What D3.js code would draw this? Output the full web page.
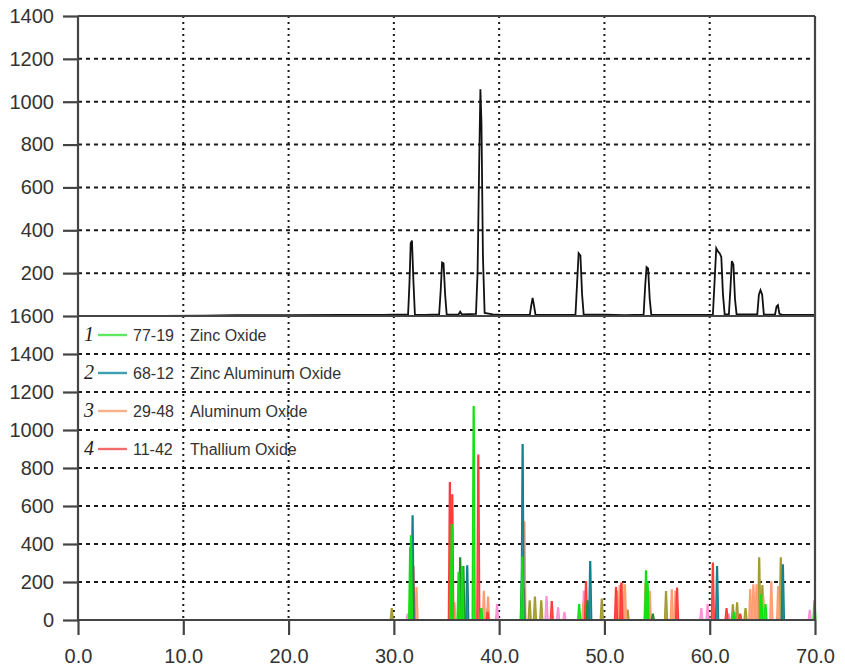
<!DOCTYPE html>
<html>
<head>
<meta charset="utf-8">
<script src="https://cdn.jsdelivr.net/npm/d3@7"></script>
<style>
  body { margin: 0; background: #fff; }
  text { font-family: "Liberation Sans", Arial, sans-serif; }
</style>
</head>
<body>
<div id="wrapper"></div>
<script>
// x axis (2-theta) ticks
const xTicks = [0, 10, 20, 30, 40, 50, 60, 70];
const topTicks = [200, 400, 600, 800, 1000, 1200, 1400];
const botTicks = [0, 200, 400, 600, 800, 1000, 1200, 1400, 1600];

// measured scan, [2theta, counts]
const topScan = [
  [0, 0], [8, 1], [12, 2], [15, 4], [20, 4], [25, 5], [29, 5], [30, 6],
  [31.35, 6], [31.48, 150], [31.6, 340], [31.72, 352], [31.86, 160], [32.0, 6],
  [33.0, 5], [34.3, 8], [34.45, 120], [34.58, 250], [34.72, 246], [34.87, 100], [35.02, 6],
  [36.15, 8], [36.3, 20], [36.45, 8],
  [37.8, 10], [37.95, 200], [38.1, 700], [38.22, 1058], [38.32, 900], [38.46, 280], [38.62, 14],
  [39.4, 8], [40.0, 6], [41.5, 5],
  [42.92, 6], [43.05, 50], [43.18, 84], [43.31, 50], [43.45, 6],
  [45.5, 5], [47.25, 6], [47.4, 150], [47.55, 293], [47.72, 282], [47.88, 100], [48.03, 6],
  [50.0, 6], [52.0, 4],
  [53.72, 6], [53.87, 140], [54.0, 228], [54.15, 222], [54.3, 80], [54.45, 6],
  [57.0, 5], [60.3, 6], [60.45, 150], [60.62, 316], [60.8, 300], [60.95, 292], [61.1, 276], [61.26, 100], [61.42, 8],
  [61.82, 8], [61.97, 130], [62.1, 256], [62.25, 240], [62.4, 80], [62.55, 8],
  [64.52, 8], [64.67, 100], [64.82, 121], [64.98, 100], [65.14, 8],
  [66.2, 6], [66.35, 45], [66.48, 51], [66.62, 10], [66.9, 5], [70, 5]
];

// reference patterns, [2theta, intensity]
const zincOxide = [
  [31.55, 380], [31.62, 442], [35.5, 500], [36.15, 250], [36.5, 280], [37.58, 1123],
  [38.3, 60], [42.2, 330], [47.6, 80], [53.95, 258], [54.1, 200], [62.3, 40], [64.9, 130], [65.3, 80], [69.95, 100]
];
const zincAluminumOxide = [
  [31.78, 547], [36.97, 284], [42.23, 922], [48.65, 307], [60.7, 280], [66.95, 290]
];
const aluminumOxide = [
  [32.15, 170], [35.75, 90], [38.55, 150], [38.95, 120], [42.4, 516], [48.0, 90],
  [51.2, 150], [51.45, 180], [51.7, 192], [51.95, 185], [53.9, 194], [54.3, 150],
  [56.4, 158], [56.75, 150], [63.85, 160], [64.15, 184], [64.45, 184], [65.1, 120],
  [65.85, 200], [66.5, 175]
];
const thalliumOxide = [
  [31.85, 280], [35.32, 723], [35.55, 658], [38.02, 868], [38.9, 40], [42.35, 167],
  [45.0, 96], [48.25, 202], [51.1, 170], [51.6, 194], [56.9, 167], [60.3, 299], [61.6, 60], [62.9, 30]
];
const oliveLines = [
  [29.8, 60], [36.25, 180], [38.9, 60], [42.9, 100], [43.4, 120], [44.0, 100], [49.75, 110],
  [52.2, 52], [55.85, 149], [62.2, 79], [62.6, 90], [63.4, 60], [64.7, 326], [65.0, 180], [66.75, 326]
];
const pinkLines = [
  [31.3, 30], [36.5, 80], [39.8, 80], [44.5, 123], [45.6, 63], [46.2, 40], [48.05, 150],
  [59.2, 60], [59.8, 80], [61.8, 30], [64.6, 120], [69.5, 50]
];
const darkGreenLines = [
  [36.3, 326], [36.6, 280], [42.15, 200], [48.4, 100], [54.6, 30]
];

const legendNums = ["1", "2", "3", "4"];
const legendCodes = ["77-19", "68-12", "29-48", "11-42"];
const legendNames = ["Zinc Oxide", "Zinc Aluminum Oxide", "Aluminum Oxide", "Thallium Oxide"];
const legendColors = ["#5fe85f", "#3b9fb0", "#f8b088", "#f26a6a"];

var dimension = {
  width: 845,
  height: 669,
  margin: { top: 16, right: 30, bottom: 49, left: 78 }
};
const split = 316;

const svg = d3.select("#wrapper")
  .append("svg")
  .attr("width", dimension.width)
  .attr("height", dimension.height);

const x = d3.scaleLinear().domain([0, 70])
  .range([dimension.margin.left, dimension.width - dimension.margin.right]);
const yTop = d3.scaleLinear().domain([0, 1400]).range([split, dimension.margin.top]);
const yBot = d3.scaleLinear().domain([0, 1600])
  .range([dimension.height - dimension.margin.bottom, split]);

// grid
const grid = svg.append("g").attr("stroke", "#1a1a1a").attr("stroke-width", 2);
grid.selectAll("line.hgt")
  .data(topTicks.filter(d => d < 1400))
  .enter().append("line")
  .attr("x1", x(0)).attr("x2", x(70))
  .attr("y1", d => yTop(d)).attr("y2", d => yTop(d))
  .attr("stroke-dasharray", "4,4");
grid.selectAll("line.hgb")
  .data(botTicks.filter(d => d > 0 && d < 1600))
  .enter().append("line")
  .attr("x1", x(0)).attr("x2", x(70))
  .attr("y1", d => yBot(d)).attr("y2", d => yBot(d))
  .attr("stroke-dasharray", "4,4");
grid.selectAll("line.vg")
  .data(xTicks.filter(d => d > 0 && d < 70))
  .enter().append("line")
  .attr("x1", d => x(d)).attr("x2", d => x(d))
  .attr("y1", yTop(1400)).attr("y2", yBot(0))
  .attr("stroke-width", 2)
  .attr("stroke-dasharray", "2,4");

// top scan
const line = d3.line().x(d => x(d[0])).y(d => yTop(d[1]));
svg.append("path")
  .datum(topScan)
  .attr("fill", "none")
  .attr("stroke", "#111")
  .attr("stroke-width", 1.8)
  .attr("d", line);

// reference patterns as sticks
const patterns = [
  { data: pinkLines, color: "#ff8fd6" },
  { data: oliveLines, color: "#a39a30" },
  { data: aluminumOxide, color: "#ff9c70" },
  { data: thalliumOxide, color: "#ff3c3c" },
  { data: darkGreenLines, color: "#1f8c2a" },
  { data: zincAluminumOxide, color: "#14808f" },
  { data: zincOxide, color: "#12e012" }
];
const stick = d => {
  const p = d[0], h = d[1];
  return d3.line()([
    [x(p - 0.14), yBot(0)], [x(p - 0.04), yBot(h)],
    [x(p + 0.04), yBot(h)], [x(p + 0.14), yBot(0)]
  ]);
};
patterns.forEach(s => {
  svg.append("g")
    .selectAll("path")
    .data(s.data)
    .enter().append("path")
    .attr("d", stick)
    .attr("fill", s.color)
    .attr("fill-opacity", 0.85)
    .attr("stroke", s.color)
    .attr("stroke-width", 1.4);
});

// axes
const axisColor = "#444";
const fmt = d3.format("d");
const gTop = svg.append("g")
  .attr("transform", `translate(${x(0)},0)`)
  .call(d3.axisLeft(yTop).tickValues(topTicks).tickFormat(fmt).tickSize(15).tickPadding(9));
const gBot = svg.append("g")
  .attr("transform", `translate(${x(0)},0)`)
  .call(d3.axisLeft(yBot).tickValues(botTicks).tickFormat(fmt).tickSize(15).tickPadding(9));
const gX = svg.append("g")
  .attr("transform", `translate(0,${yBot(0)})`)
  .call(d3.axisBottom(x).tickValues(xTicks).tickFormat(d3.format(".1f"))
    .tickSize(15).tickPadding(14));
[gTop, gBot, gX].forEach(g => {
  g.select(".domain").remove();
  g.selectAll(".tick line").attr("stroke", axisColor).attr("stroke-width", 2.2);
  g.selectAll(".tick text")
    .attr("fill", "#333")
    .style("font-size", "20px");
});

// frame
const frame = svg.append("g").attr("stroke", axisColor).attr("stroke-width", 2.2);
frame.append("line").attr("x1", x(0)).attr("x2", x(0)).attr("y1", yTop(1400)).attr("y2", yBot(0));
frame.append("line").attr("x1", x(70)).attr("x2", x(70)).attr("y1", yTop(1400)).attr("y2", yBot(0));
frame.append("line").attr("x1", x(0)).attr("x2", x(70)).attr("y1", yTop(1400)).attr("y2", yTop(1400));
frame.append("line").attr("x1", x(0)).attr("x2", x(70)).attr("y1", split).attr("y2", split);
frame.append("line").attr("x1", x(0)).attr("x2", x(70)).attr("y1", yBot(0)).attr("y2", yBot(0));

// legend
const legend = svg.append("g").selectAll("g")
  .data(legendNames)
  .enter().append("g")
  .attr("transform", (d, i) => `translate(0,${yBot(1500 - i * 200)})`);
legend.append("text")
  .attr("x", 89).attr("y", 6)
  .attr("text-anchor", "middle")
  .style("font-family", "'Liberation Serif', serif")
  .style("font-style", "italic")
  .style("font-size", "20px")
  .attr("fill", "#222")
  .text((d, i) => legendNums[i]);
legend.append("line")
  .attr("x1", 98).attr("x2", 127)
  .attr("y1", 0).attr("y2", 0)
  .attr("stroke", (d, i) => legendColors[i])
  .attr("stroke-width", 2.4);
legend.append("text")
  .attr("x", 133).attr("y", 6)
  .style("font-size", "16px")
  .attr("fill", "#333")
  .text((d, i) => legendCodes[i]);
legend.append("text")
  .attr("x", 190).attr("y", 6)
  .style("font-size", "16px")
  .attr("fill", "#333")
  .text(d => d);
</script>
</body>
</html>
